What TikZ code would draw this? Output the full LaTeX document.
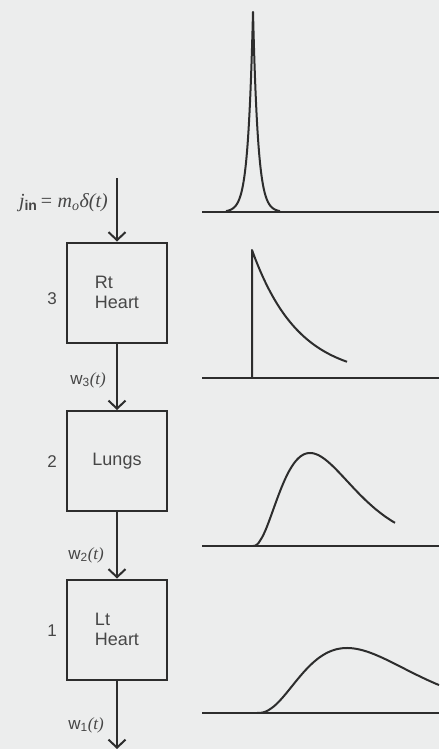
\documentclass[tikz,border=0pt]{standalone}
\usepackage{fontspec}
\setmainfont{Liberation Sans}
\newfontfamily\tim{Liberation Serif}
\usetikzlibrary{arrows.meta}
\definecolor{bgc}{RGB}{236,237,237}
\definecolor{ink}{RGB}{45,45,45}
\definecolor{txt}{RGB}{70,70,70}
\tikzset{
  organ/.style={draw=ink, line width=2pt, minimum width=100pt, minimum height=100pt, inner sep=0pt,
    font=\fontsize{18}{20}\selectfont, align=left, text=txt},
  flow/.style={draw=ink, line width=2pt, -{Straight Barb[length=8pt,width=17pt]}},
  curve/.style={draw=ink, line width=2pt, line join=round},
  axis/.style={draw=ink, line width=2pt},
  num/.style={font=\fontsize{17}{20}\selectfont, text=txt, inner sep=0pt},
  lab/.style={font=\fontsize{17}{20}\selectfont, text=txt, inner sep=0pt, anchor=east}
}
\begin{document}
\begin{tikzpicture}[x=1pt,y=-1pt]
\fill[bgc] (0,0) rectangle (439,749);
\useasboundingbox (0,0) rectangle (439,749);

% boxes
\node[organ] (rh) at (117,292.5) {Rt\\Heart};
\node[organ] (lu) at (117,461) {Lungs};
\node[organ] (lh) at (117,629.5) {Lt\\Heart};

\coordinate (in) at (117,178);
\coordinate (out) at (117,749);

\draw[flow] (in) -- (rh.north);
\draw[flow] (rh.south) -- (lu.north);
\draw[flow] (lu.south) -- (lh.north);
\draw[flow] (lh.south) -- (out);

% numbers
\node[num] (n3) at (52,299) {3};
\node[num] (n2) at (52,462) {2};
\node[num] (n1) at (52,631) {1};

% labels
\node[lab, font=\fontsize{20}{22}\selectfont] (jin) at (108,203) {{\tim\itshape j}\textsubscript{\bfseries in}\,{\tim =} {\tim\itshape m\textsubscript{o}δ(t)}};
\node[lab] (w3) at (106,380) {w\textsubscript{3}{\tim\itshape (t)}};
\node[lab] (w2) at (104,555) {w\textsubscript{2}{\tim\itshape (t)}};
\node[lab] (w1) at (104,725) {w\textsubscript{1}{\tim\itshape (t)}};

% graph 1: spike
\draw[axis] (202,212) -- (439,212);
\draw[curve] plot[domain=-27:27,samples=109] ({253+\x},{212-200*exp(-abs(\x)/5)});

% graph 2: exponential decay
\draw[axis] (202,378) -- (439,378);
\draw[curve] (252,378) -- plot[domain=0:95,samples=60] ({252+\x},{378-128*exp(-\x/46)});

% graph 3
\draw[axis] (202,546) -- (439,546);
\draw[curve] plot[domain=0.01:142,samples=100] ({253+\x},{546-93*(\x/57)^2.4*exp(2.4*(1-\x/57))});

% graph 4
\draw[axis] (202,713) -- (439,713);
\draw[curve] plot[domain=0.01:182,samples=100] ({257+\x},{713-65*(\x/90)^2.65*exp(2.65*(1-\x/90))});
\end{tikzpicture}
\end{document}
